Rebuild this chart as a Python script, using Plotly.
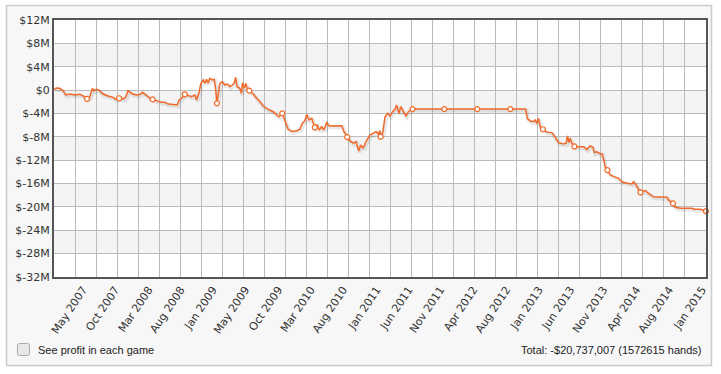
import plotly.graph_objects as go

# ---------------- data ----------------
session = [0, 1.3, 2.7, 4.3, 5.6, 7.5, 9.9, 12.2, 13.8, 15.7, 17.0, 18.3, 19.0, 20.2, 21.4,
           23.3, 25.7, 28.1, 29.4, 31.0, 32.9, 34.1, 35.2, 37.3, 39.5, 41.1, 42.1, 44.0,
           45.2, 46.9, 48.8, 51.1, 52.7, 54.3, 56.7, 58.6, 59.5, 60.7, 62.2, 63.8, 65.4,
           67.0, 67.8, 68.9, 69.9, 71.0, 71.8, 72.6, 73.3, 74.1, 75.2, 76.2, 76.9, 77.5,
           78.1, 78.9, 80.0, 81.3, 82.6, 83.7, 84.8, 85.7, 86.4, 87.1, 88.4, 89.2, 89.7,
           90.5, 91.3, 92.1, 92.9, 94.8, 96.4, 98.0, 99.5, 101.9, 104.3, 105.9, 107.0,
           108.6, 109.9, 111.4, 113.3, 115.4, 117.0, 118.1, 119.4, 120.2, 121.4, 122.6,
           124.1, 125.2, 126.2, 127.3, 128.4, 129.7, 131.0, 132.9, 136.9, 138.0, 139.5,
           140.8, 142.4, 143.7, 145.0, 145.9, 147.1, 148.4, 150.3, 151.9, 153.2, 154.3,
           155.1, 155.4, 156.4, 157.5, 158.6, 159.9, 161.1, 162.2, 163.0, 164.1, 165.0,
           166.2, 167.5, 168.6, 170.6, 185.7, 201.4, 217.1, 224.4, 225.2, 226.5, 228.1,
           228.9, 229.7, 230.5, 231.3, 232.6, 234.4, 236.9, 238.4, 240.0, 242.4, 243.7,
           244.3, 245.0, 245.6, 246.4, 247.6, 251.9, 253.5, 255.1, 256.4, 257.1, 258.3,
           259.5, 260.7, 261.8, 262.2, 263.3, 264.6, 267.0, 268.6, 270.2, 272.6, 275.0,
           275.7, 276.9, 279.0, 281.3, 282.4, 285.2, 289.2, 291.6, 292.4, 294.5, 295.6,
           298.0, 303.5, 304.6, 307.5, 310.2]

profit = [0.2, 0.35, 0.3, -0.1, -0.84, -0.67, -0.84, -0.7, -1.0, -1.5, -1.2, 0.3, -0.1, 0.13,
          0.0, -0.67, -1.0, -1.24, -1.58, -1.4, -1.5, -1.24, -0.1, -0.67, -0.84, -0.72, -0.38,
          -0.96, -1.24, -1.58, -1.8, -2.1, -2.1, -2.4, -2.45, -2.55, -1.7, -1.4, -0.72, -0.96,
          -1.13, -0.84, -1.7, -0.55, 1.16, 1.73, 1.16, 1.84, 1.16, 2.0, 1.73, 1.84, 0.3, -2.27,
          -0.55, 1.16, 1.44, 0.87, 1.04, 0.58, 0.87, 1.16, 2.19, 0.58, 0.3, -0.55, 1.27, 0.3,
          1.16, 0.0, -0.1, -0.67, -1.4, -1.98, -2.73, -3.3, -3.7, -4.27, -4.56, -3.98, -5.12,
          -6.7, -7.1, -6.95, -6.7, -5.7, -5.24, -4.15, -5.12, -4.84, -6.4, -5.98, -6.84, -6.27,
          -6.84, -5.6, -6.15, -6.1, -6.1, -7.12, -8.05, -8.7, -9.1, -8.84, -10.43, -9.4, -9.97,
          -8.84, -7.7, -7.4, -7.12, -7.5, -6.95, -7.98, -7.3, -4.56, -3.98, -4.43, -3.7, -3.3,
          -2.55, -3.98, -2.84, -3.7, -4.43, -3.7, -3.25, -3.25, -3.25, -3.25, -3.25, -4.84,
          -5.3, -5.4, -5.12, -5.7, -4.84, -6.27, -6.7, -7.2, -7.3, -8.0, -9.0, -9.23, -9.1,
          -7.86, -9.0, -8.26, -9.1, -9.65, -9.7, -10.15, -9.57, -9.8, -10.7, -10.55, -10.84,
          -10.9, -12.27, -13.1, -13.7, -14.54, -14.9, -15.1, -15.7, -15.96, -16.08, -15.7,
          -16.25, -17.5, -17.2, -17.57, -18.26, -18.36, -18.36, -18.8, -19.4, -20.07, -20.24,
          -20.24, -20.4, -20.4, -20.737]

month_labels = ["May 2007", "Oct 2007", "Mar 2008", "Aug 2008", "Jan 2009", "May 2009",
                "Oct 2009", "Mar 2010", "Aug 2010", "Jan 2011", "Jun 2011", "Nov 2011",
                "Apr 2012", "Aug 2012", "Jan 2013", "Jun 2013", "Nov 2013", "Apr 2014",
                "Aug 2014", "Jan 2015"]
month_session = [15.7, 31.0, 46.9, 62.2, 77.5, 92.9, 108.6, 124.1, 139.5, 155.4, 170.6,
                 185.7, 201.4, 217.1, 232.6, 247.6, 263.3, 279.0, 294.5, 310.2]
month_profit = [-1.5, -1.4, -1.58, -0.72, -2.27, -0.1, -3.98, -6.4, -8.05, -7.98, -3.25,
                -3.25, -3.25, -3.25, -6.7, -9.65, -13.7, -17.5, -19.4, -20.737]

y_ticks = [12, 8, 4, 0, -4, -8, -12, -16, -20, -24, -28, -32]
y_text = ["$12M", "$8M", "$4M", "$0", "$-4M", "$-8M", "$-12M", "$-16M", "$-20M",
          "$-24M", "$-28M", "$-32M"]
shaded_bands = [(4, 8), (-4, 0), (-12, -8), (-20, -16), (-28, -24)]

total_text = "Total: -$20,737,007 (1572615 hands)"
checkbox_text = "See profit in each game"

# ---------------- layout geometry ----------------
W, H = 721, 374
L, R, T, B = 54, 15, 20, 97
PW, PH = W - L - R, H - T - B


def px(x):
    return (x - L) / PW


def py(y):
    return (H - B - y) / PH


ORANGE = "#f26a2a"

fig = go.Figure()

# soft shadow under the line
fig.add_trace(go.Scatter(x=[s + 0.5 for s in session], y=[p - 0.25 for p in profit],
                         mode="lines", line=dict(color="rgba(0,0,0,0.09)", width=4),
                         hoverinfo="skip", showlegend=False))
fig.add_trace(go.Scatter(x=session, y=profit, mode="lines",
                         line=dict(color=ORANGE, width=1.5), showlegend=False))
fig.add_trace(go.Scatter(x=month_session, y=month_profit, mode="markers",
                         marker=dict(size=5, color="white", line=dict(color=ORANGE, width=1.2)),
                         showlegend=False, cliponaxis=False))

shapes = []
# outer widget frame
shapes.append(dict(type="rect", xref="paper", yref="paper", layer="below",
                   x0=px(6.5), x1=px(711.5), y0=py(365.5), y1=py(5.5),
                   fillcolor="#f7f7f7", line=dict(color="#cccccc", width=1.5)))
# white plot area
shapes.append(dict(type="rect", xref="paper", yref="paper", layer="below",
                   x0=0, x1=1, y0=0, y1=1, fillcolor="white", line=dict(width=0)))
# alternating bands
for y0, y1 in shaded_bands:
    shapes.append(dict(type="rect", xref="paper", yref="y", layer="below",
                       x0=0, x1=1, y0=y0, y1=y1, fillcolor="#f4f4f4", line=dict(width=0)))
# checkbox
cx0, cx1, cy0, cy1, r = px(17.5), px(29.5), py(355.5), py(343.5), 2.0
rx, ry = r / PW, r / PH
path = (f"M {cx0+rx},{cy0} L {cx1-rx},{cy0} Q {cx1},{cy0} {cx1},{cy0+ry} "
        f"L {cx1},{cy1-ry} Q {cx1},{cy1} {cx1-rx},{cy1} L {cx0+rx},{cy1} "
        f"Q {cx0},{cy1} {cx0},{cy1-ry} L {cx0},{cy0+ry} Q {cx0},{cy0} {cx0+rx},{cy0} Z")
shapes.append(dict(type="path", xref="paper", yref="paper", path=path,
                   fillcolor="#e9e9e9", line=dict(color="#a9a9a9", width=1)))

fig.update_layout(
    width=W, height=H,
    margin=dict(l=L, r=R, t=T, b=B, pad=0),
    paper_bgcolor="white", plot_bgcolor="white",
    shapes=shapes,
    font=dict(family="DejaVu Sans, Verdana, sans-serif", size=11, color="#333333"),
    annotations=[
        dict(x=px(36), y=py(350), xref="paper", yref="paper", text=checkbox_text,
             showarrow=False, xanchor="left", yanchor="middle",
             font=dict(family="Liberation Sans, Arial, sans-serif", size=11, color="#222222")),
        dict(x=px(703), y=py(350), xref="paper", yref="paper", text=total_text,
             showarrow=False, xanchor="right", yanchor="middle",
             font=dict(family="Liberation Sans, Arial, sans-serif", size=11, color="#222222")),
    ],
    xaxis=dict(range=[0, 310.2], tickmode="array", tickvals=month_session, ticktext=month_labels,
               tickangle=-56, showgrid=False, zeroline=False, showline=True, linecolor="#555555",
               linewidth=2, mirror=True, ticks="", fixedrange=True, ticklabelshift=-4,
               minor=dict(tickmode="linear", tick0=0, dtick=10, showgrid=True,
                          gridcolor="#bbbbbb", gridwidth=1, ticks="")),
    yaxis=dict(range=[-32, 12], tickmode="array", tickvals=y_ticks, ticktext=y_text,
               showgrid=True, gridcolor="#bbbbbb", gridwidth=1, zeroline=False,
               showline=True, linecolor="#555555", linewidth=2, mirror=True, ticks="",
               fixedrange=True),
)

fig.write_html("out.html")
